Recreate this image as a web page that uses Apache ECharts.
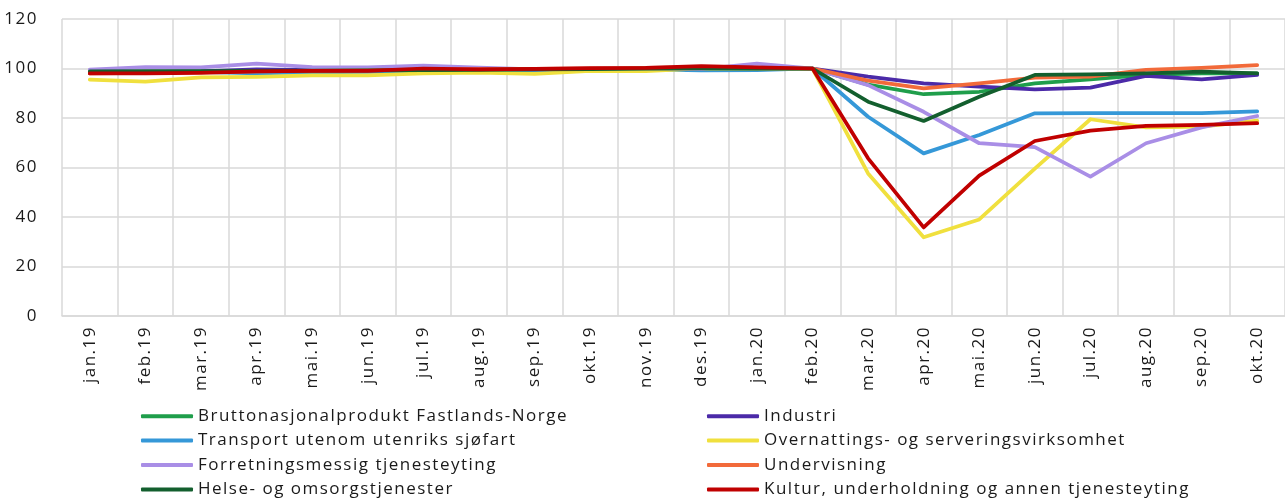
<!DOCTYPE html>
<html>
<head>
<meta charset="utf-8">
<script src="https://cdn.jsdelivr.net/npm/echarts@6/dist/echarts.min.js"></script>
<style>
html,body{margin:0;padding:0;background:#fff;}
#chart{width:1285px;height:503px;}
</style>
</head>
<body>
<div id="chart"></div>
<script>
const categories = ["jan.19","feb.19","mar.19","apr.19","mai.19","jun.19","jul.19","aug.19","sep.19","okt.19","nov.19","des.19","jan.20","feb.20","mar.20","apr.20","mai.20","jun.20","jul.20","aug.20","sep.20","okt.20"];
const yTicks = [0, 20, 40, 60, 80, 100, 120];

const brutto       = [98.5, 98.6, 98.7, 98.9, 99.0, 99.1, 99.3, 99.4, 99.5, 99.6, 99.8, 99.9, 99.7, 100, 93.5, 89.6, 90.6, 94.0, 95.6, 97.4, 98.0, 98.0];
const industri     = [98.3, 98.5, 98.8, 99.6, 99.3, 99.2, 99.5, 99.3, 99.6, 99.8, 100.0, 100.2, 100.3, 100, 96.7, 94.0, 92.7, 91.6, 92.3, 97.0, 95.6, 97.4];
const transport    = [98.5, 98.3, 98.6, 98.0, 98.4, 98.6, 99.0, 99.1, 99.3, 99.5, 99.6, 99.2, 99.3, 100, 80.5, 65.7, 73.1, 81.9, 82.0, 82.0, 82.0, 82.7];
const overnatting  = [95.5, 94.7, 96.4, 96.6, 97.2, 97.2, 98.0, 98.3, 97.8, 99.0, 98.9, 100.0, 100.0, 100, 57.6, 31.8, 39.0, 59.5, 79.5, 76.2, 76.5, 78.9];
const forretning   = [99.5, 100.6, 100.5, 102.0, 100.6, 100.5, 101.2, 100.4, 99.6, 99.8, 100.2, 99.8, 102.0, 100, 93.3, 82.5, 69.8, 68.2, 56.3, 69.8, 76.2, 80.8];
const undervisning = [98.0, 98.2, 98.5, 98.8, 99.0, 99.2, 99.5, 99.7, 99.8, 100.0, 100.3, 100.5, 100.2, 100, 95.1, 92.0, 94.0, 96.3, 96.7, 99.4, 100.3, 101.4];
const helse        = [98.8, 98.9, 98.9, 99.0, 99.1, 99.2, 99.3, 99.4, 99.6, 99.7, 99.9, 100.0, 99.9, 100, 86.6, 78.8, 88.6, 97.4, 97.6, 98.0, 98.7, 98.0];
const kultur       = [98.0, 98.0, 98.2, 98.8, 99.0, 99.0, 100.0, 99.6, 99.8, 100.2, 100.3, 101.0, 100.5, 100, 63.7, 35.8, 56.7, 70.7, 74.9, 76.8, 77.2, 77.9];

const seriesNames = ["Bruttonasjonalprodukt Fastlands-Norge","Industri","Transport utenom utenriks sjøfart","Overnattings- og serveringsvirksomhet","Forretningsmessig tjenesteyting","Undervisning","Helse- og omsorgstjenester","Kultur, underholdning og annen tjenesteyting"];
const seriesData = [brutto, industri, transport, overnatting, forretning, undervisning, helse, kultur];
const colors = ["#1f9e4b","#4b2aa8","#3598d8","#f0e03e","#a98ee6","#f26a3a","#135f2e","#c00000"];

const font = "'Open Sans', 'Noto Sans', sans-serif";
const chart = echarts.init(document.getElementById('chart'), null, {renderer:'canvas'});

const series = seriesNames.map((n, i) => ({
  name: n,
  type: 'line',
  data: seriesData[i],
  symbol: 'none',
  smooth: false,
  color: colors[i],
  lineStyle: {width: 3.75, color: colors[i], cap: 'round', join: 'round'},
  animation: false
}));

const legendCommon = {
  orient: 'vertical',
  top: 404,
  padding: 0,
  itemWidth: 52,
  itemHeight: 4,
  itemGap: 0,
  icon: 'roundRect',
  textStyle: {fontFamily: font, fontSize: 17, color: '#1a1a1a', lineHeight: 24.4},
};

const option = {
  animation: false,
  grid: {left: 62, width: 1229, top: 19, bottom: 187, containLabel: false},
  legend: [
    Object.assign({}, legendCommon, {left: 141, data: [seriesNames[0], seriesNames[2], seriesNames[4], seriesNames[6]]}),
    Object.assign({}, legendCommon, {left: 707, data: [seriesNames[1], seriesNames[3], seriesNames[5], seriesNames[7]]})
  ],
  xAxis: {
    type: 'category',
    data: categories,
    boundaryGap: true,
    axisLine: {show: true, lineStyle: {color: '#d9d9d9', width: 1.5}},
    axisTick: {show: false},
    splitLine: {show: true, interval: 0, lineStyle: {color: '#d9d9d9', width: 1.5}},
    axisLabel: {interval: 0, rotate: 90, margin: 10, fontFamily: font, fontSize: 17, color: '#1a1a1a'}
  },
  yAxis: {
    type: 'value',
    min: yTicks[0],
    max: yTicks[yTicks.length - 1],
    interval: 20,
    axisLine: {show: false},
    axisTick: {show: false},
    splitLine: {show: true, lineStyle: {color: '#d9d9d9', width: 1.5}},
    axisLabel: {margin: 24, fontFamily: font, fontSize: 17, color: '#1a1a1a'}
  },
  series: series
};

chart.setOption(option);
// widen text spacing to match the reference's loose glyph spacing
document.querySelectorAll('#chart canvas').forEach(c => {
  const ctx = c.getContext('2d');
  if ('letterSpacing' in ctx) ctx.letterSpacing = '1.5px';
});
chart.clear();
chart.setOption(option);
</script>
</body>
</html>
